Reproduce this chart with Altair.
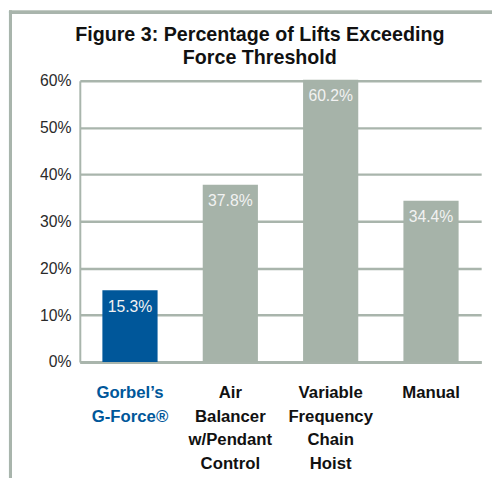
import altair as alt
import pandas as pd

categories = ["Gorbel’s\nG-Force®", "Air\nBalancer\nw/Pendant\nControl",
              "Variable\nFrequency\nChain\nHoist", "Manual"]
values = [15.3, 37.8, 60.2, 34.4]
labels = ["15.3%", "37.8%", "60.2%", "34.4%"]
highlight = [True, False, False, False]
y_ticks = [0, 10, 20, 30, 40, 50, 60]

df = pd.DataFrame({"cat": categories, "val": values, "lab": labels, "hi": highlight})

GRID = "#a9b5ac"
GRAY = "#a6b3a9"
BLUE = "#00579a"
FONT = "Liberation Sans"

x = alt.X("cat:N", sort=categories, title=None,
          scale=alt.Scale(paddingInner=0.45, paddingOuter=0.225),
          axis=alt.Axis(labelExpr="split(datum.label, '\\n')", labelAngle=0,
                        labelFont=FONT, labelFontSize=17, labelFontWeight="bold",
                        labelLineHeight=24, labelBaseline="top", labelPadding=23,
                        labelColor={"condition": {"test": "indexof(datum.value, 'Gorbel') >= 0", "value": BLUE}, "value": "#111111"},
                        ticks=False, domainColor=GRID, domainWidth=3, grid=False))
y = alt.Y("val:Q", title=None,
          scale=alt.Scale(domain=[0, 60], nice=False),
          axis=alt.Axis(values=y_ticks, labelExpr="datum.value + '%'",
                        labelFont=FONT, labelFontSize=16, labelColor="#2a2a2a",
                        labelPadding=9, ticks=False, domainColor=GRID, domainWidth=2,
                        grid=True, gridColor=GRID, gridWidth=2.5))

bars = alt.Chart(df).mark_bar().encode(
    x=x, y=y,
    color=alt.Color("hi:N", scale=alt.Scale(domain=[True, False], range=[BLUE, GRAY]), legend=None),
)
text = alt.Chart(df).mark_text(baseline="middle", dy=17, font=FONT, fontSize=16,
                               color="#f2f2f2").encode(
    x=alt.X("cat:N", sort=categories), y="val:Q", text="lab:N")

frame_top = alt.Chart(df).mark_rule(color=GRID, strokeWidth=3).encode(
    x=alt.value(-72), x2=alt.value(430), y=alt.value(-69.5))
frame_left = alt.Chart(df).mark_rule(color=GRID, strokeWidth=3).encode(
    x=alt.value(-70.5), y=alt.value(-71), y2=alt.value(420))

chart = alt.layer(frame_top, frame_left, bars, text).properties(
    width=408, height=286,
    autosize=alt.AutoSizeParams(type="none"),
    padding={"left": 73, "top": 70, "right": 11, "bottom": 114},
    title=alt.TitleParams(["Figure 3: Percentage of Lifts Exceeding", "Force Threshold"],
                          anchor="middle", frame="group", dx=-21, offset=14, dy=74,
                          font=FONT, fontSize=20, fontWeight="bold", color="#111111",
                          lineHeight=24),
).configure_view(stroke=None)

chart.save("out.html", embed_options={"renderer": "svg", "actions": False})
